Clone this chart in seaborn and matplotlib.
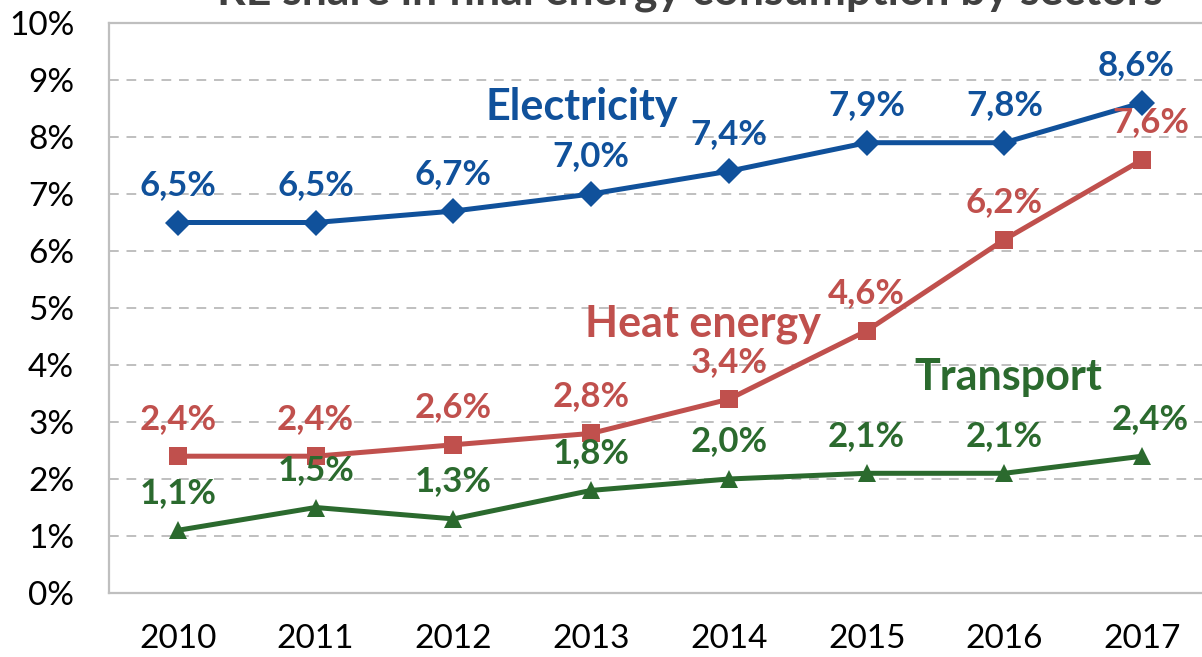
import numpy as np
import pandas as pd
import matplotlib
matplotlib.use("Agg")
import matplotlib.pyplot as plt
import seaborn as sns

years = [2010, 2011, 2012, 2013, 2014, 2015, 2016, 2017]
electricity = [6.5, 6.5, 6.7, 7.0, 7.4, 7.9, 7.9, 8.6]
heat = [2.4, 2.4, 2.6, 2.8, 3.4, 4.6, 6.2, 7.6]
transport = [1.1, 1.5, 1.3, 1.8, 2.0, 2.1, 2.1, 2.4]
# labels as printed on the chart (2016 electricity reads 7,8% although plotted at 7,9)
electricity_labels = ["6,5%", "6,5%", "6,7%", "7,0%", "7,4%", "7,9%", "7,8%", "8,6%"]
heat_labels = ["2,4%", "2,4%", "2,6%", "2,8%", "3,4%", "4,6%", "6,2%", "7,6%"]
transport_labels = ["1,1%", "1,5%", "1,3%", "1,8%", "2,0%", "2,1%", "2,1%", "2,4%"]
y_ticks = [0, 1, 2, 3, 4, 5, 6, 7, 8, 9, 10]

BLUE = "#10519B"
RED = "#C0504D"
GREEN = "#2B6A2E"

sns.set_theme(style="white")
plt.rcParams["font.family"] = ["Lato", "DejaVu Sans"]

df = pd.DataFrame({
    "year": years * 3,
    "value": electricity + heat + transport,
    "sector": ["Electricity"] * 8 + ["Heat energy"] * 8 + ["Transport"] * 8,
})

fig = plt.figure(figsize=(12.02, 6.57), dpi=100)
ax = fig.add_axes([109 / 1202, 64 / 657, 1102 / 1202, 570 / 657])

sns.lineplot(data=df, x="year", y="value", hue="sector", style="sector",
             palette={"Electricity": BLUE, "Heat energy": RED, "Transport": GREEN},
             markers={"Electricity": "D", "Heat energy": "s", "Transport": "^"},
             dashes=False, linewidth=3.6, markersize=13, markeredgewidth=0,
             legend=False, ax=ax)

ax.set_xlim(2009.5, 2017.5)
ax.set_ylim(0, 10)
ax.set_yticks(y_ticks)
ax.set_yticklabels([f"{t}%" for t in y_ticks], fontsize=24, color="black")
ax.set_xticks(years)
ax.set_xticklabels([str(y) for y in years], fontsize=24, color="black")
ax.tick_params(axis="x", pad=22, length=0)
ax.tick_params(axis="y", pad=25, length=0)
ax.set_xlabel("")
ax.set_ylabel("")
ax.yaxis.grid(True, linestyle=(0, (5, 4)), color="#BFBFBF", linewidth=1.4)
ax.set_axisbelow(True)
for side in ["left", "bottom", "top"]:
    ax.spines[side].set_color("#BFBFBF")
    ax.spines[side].set_linewidth(1.6)
ax.spines["right"].set_visible(False)

# data labels above the points
for vals, labels, color in [(electricity, electricity_labels, BLUE),
                            (heat, heat_labels, RED),
                            (transport, transport_labels, GREEN)]:
    for yr, v, lab in zip(years, vals, labels):
        dx = 0
        if yr == 2017:
            dx = -4 if color == BLUE else 6
        ax.annotate(lab, (yr, v), xytext=(dx, 27), textcoords="offset points",
                    ha="center", va="center", fontsize=25, fontweight="bold", color=color)

# series names
ax.text(2012.93, 8.53, "Electricity", ha="center", va="center", fontsize=31,
        fontweight="bold", color=BLUE)
ax.text(2013.81, 4.72, "Heat energy", ha="center", va="center", fontsize=31,
        fontweight="bold", color=RED)
ax.text(2016.03, 3.79, "Transport", ha="center", va="center", fontsize=31,
        fontweight="bold", color=GREEN)

# title, clipped at the top edge as in the source image
fig.text(690 / 1202, 1 - 5 / 657, "RE share in final energy consumption by sectors",
         ha="center", va="baseline", fontsize=32, fontweight="bold", color="#404040")

fig.savefig("out.png", dpi=100)
